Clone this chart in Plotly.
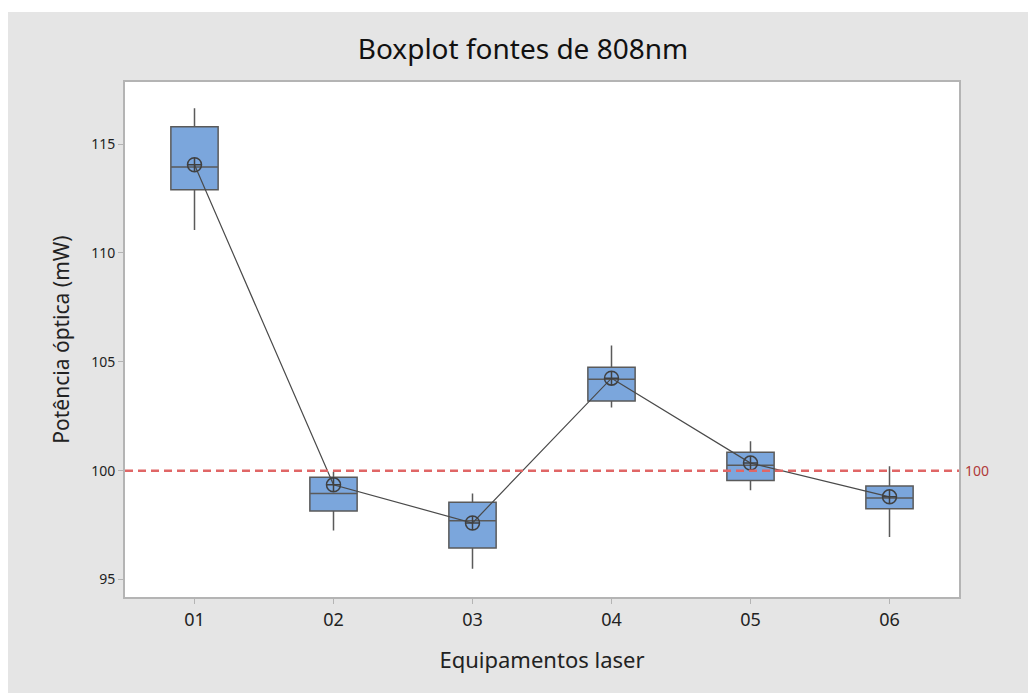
import plotly.graph_objects as go

# Laser sources (808 nm) and their optical power statistics, in mW
equipamentos = ["01", "02", "03", "04", "05", "06"]
minimo = [111.05, 97.25, 95.50, 102.90, 99.10, 96.95]
q1 = [112.90, 98.15, 96.45, 103.20, 99.55, 98.25]
mediana = [113.95, 98.95, 97.70, 104.20, 100.25, 98.75]
q3 = [115.80, 99.70, 98.55, 104.75, 100.85, 99.30]
maximo = [116.65, 99.95, 98.95, 105.75, 101.35, 100.20]
media = [114.05, 99.35, 97.60, 104.25, 100.35, 98.80]

y_ticks = [95, 100, 105, 110, 115]
referencia = 100

W, H = 1028, 693
L, R, T, B = 125, 69, 82, 96
pw, ph = W - L - R, H - T - B

fig = go.Figure()

fig.add_trace(go.Box(
    x=equipamentos,
    q1=q1, median=mediana, q3=q3,
    lowerfence=minimo, upperfence=maximo,
    boxpoints=False,
    width=0.34,
    whiskerwidth=0,
    fillcolor="#7BA6DC",
    line=dict(color="#5a5a5a", width=1.5),
    hoverinfo="skip",
    showlegend=False,
))

fig.add_trace(go.Scatter(
    x=equipamentos, y=media,
    mode="lines+markers",
    line=dict(color="#4a4a4a", width=1.2),
    marker=dict(symbol="circle-cross-open", size=14, color="#404040",
                line=dict(width=1.5, color="#404040")),
    showlegend=False,
))

# reference level
fig.add_shape(type="line", xref="paper", yref="y", x0=0, x1=1,
              y0=referencia, y1=referencia,
              line=dict(color="#E06666", width=2.5, dash="8px,5px"))
fig.add_annotation(xref="paper", yref="y", x=1, y=referencia,
                   text=str(referencia), showarrow=False,
                   xanchor="left", xshift=4,
                   font=dict(size=14, color="#B03A3A", family="Noto Sans"))

# white page strips around the grey frame
fig.add_shape(type="rect", xref="paper", yref="paper",
              x0=-L / pw - 0.01, x1=1 + R / pw + 0.01,
              y0=1 + (T - 12) / ph, y1=1 + T / ph + 0.01,
              fillcolor="white", line=dict(width=0), layer="above")
fig.add_shape(type="rect", xref="paper", yref="paper",
              x0=-L / pw - 0.01, x1=-(L - 8) / pw,
              y0=-B / ph - 0.01, y1=1 + T / ph + 0.01,
              fillcolor="white", line=dict(width=0), layer="above")

fig.update_layout(
    width=W, height=H,
    margin=dict(l=L, r=R, t=T, b=B),
    paper_bgcolor="#E5E5E5",
    plot_bgcolor="white",
    font=dict(family="Noto Sans", color="#222"),
    title=dict(text="Boxplot fontes de 808nm", xref="container", yref="container",
               x=523 / W, y=1 - 49 / H, xanchor="center", yanchor="middle",
               font=dict(size=28, color="#111", family="Noto Sans")),
)

fig.update_xaxes(
    type="category", range=[-0.5, 5.5],
    showline=True, mirror=True, linecolor="#B4B4B4", linewidth=2,
    ticks="outside", ticklen=5, tickcolor="#B4B4B4",
    showgrid=False, zeroline=False,
    tickfont=dict(size=18, color="#222"),
    title=dict(text="Equipamentos laser", font=dict(size=22, color="#222"), standoff=23),
)
fig.update_yaxes(
    range=[94.2, 117.85],
    tickvals=y_ticks,
    showline=True, mirror=True, linecolor="#B4B4B4", linewidth=2,
    ticks="outside", ticklen=5, tickcolor="#B4B4B4",
    showgrid=False, zeroline=False,
    tickfont=dict(size=14, color="#222"),
    title=dict(text="Potência óptica (mW)", font=dict(size=21, color="#222"), standoff=16),
)

fig.write_html("out.html")
